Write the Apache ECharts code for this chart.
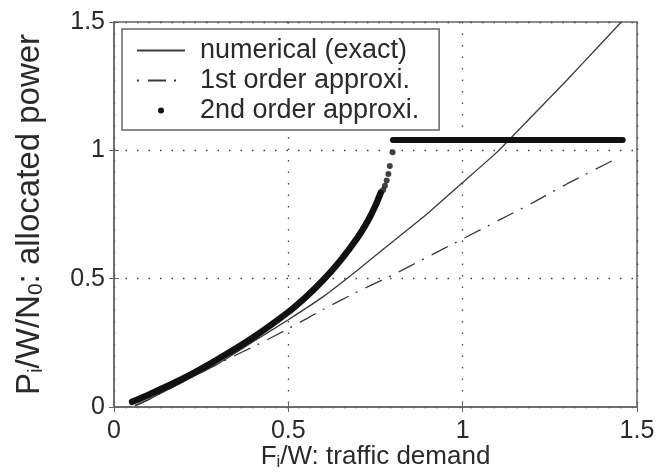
<!DOCTYPE html>
<html>
<head>
<meta charset="utf-8">
<script src="https://cdn.jsdelivr.net/npm/echarts@6/dist/echarts.min.js"></script>
<style>
  html, body { margin: 0; padding: 0; background: #fff; }
  #chart { width: 657px; height: 474px; }
</style>
</head>
<body>
<div id="chart"></div>
<script>
// Data
const numericalX = [0.06, 0.1, 0.2, 0.3, 0.4, 0.5, 0.6, 0.7, 0.8, 0.9, 1.0, 1.1, 1.2, 1.3, 1.4, 1.455];
const numericalY = [0.005, 0.03, 0.1, 0.17, 0.255, 0.34, 0.43, 0.535, 0.645, 0.755, 0.875, 0.995, 1.135, 1.275, 1.42, 1.5];

const firstX = [0.06, 0.1, 0.2, 0.3, 0.4, 0.5, 0.6, 0.7, 0.8, 0.9, 1.0, 1.1, 1.2, 1.3, 1.43];
const firstY = [0.005, 0.03, 0.1, 0.17, 0.235, 0.305, 0.38, 0.45, 0.515, 0.585, 0.655, 0.725, 0.795, 0.87, 0.96];

// 2nd order: dense part of the curve, the sparse dots near the top, the flat part
const secondCurveX = [0.052, 0.1, 0.2, 0.3, 0.4, 0.5, 0.55, 0.6, 0.65, 0.7, 0.73, 0.75, 0.765];
const secondCurveY = [0.02, 0.048, 0.112, 0.188, 0.272, 0.37, 0.428, 0.495, 0.572, 0.663, 0.73, 0.785, 0.835];
const secondDotsX = [0.772, 0.777, 0.782, 0.787, 0.791, 0.799];
const secondDotsY = [0.845, 0.862, 0.882, 0.908, 0.939, 0.993];
const secondFlatX = [0.8, 1.459];
const secondFlatY = [1.04, 1.04];

const names = ['numerical (exact)', '1st order approxi.', '2nd order approxi.'];

const pairs = (xs, ys) => xs.map((x, i) => [x, ys[i]]);

const FONT = 'Liberation Sans';
const TEXT = '#2a2a2a';
const AXIS = '#666';

const chart = echarts.init(document.getElementById('chart'));

const gridLine = { show: true, lineStyle: { color: '#444', width: 1.3, type: [1.5, 10] } };
const xRich = {
  m: { fontSize: 26, fontFamily: FONT, color: TEXT, lineHeight: 28 },
  s: { fontSize: 17, fontFamily: FONT, color: TEXT, lineHeight: 17, padding: [24, 0, 0, 0], verticalAlign: 'bottom' }
};
const yRich = {
  m: { fontSize: 33, fontFamily: FONT, color: TEXT, lineHeight: 35 },
  s: { fontSize: 21, fontFamily: FONT, color: TEXT, lineHeight: 21, padding: [26, 0, 0, 0], verticalAlign: 'bottom' }
};
const hidden = { opacity: 0, borderWidth: 0 };

chart.setOption({
  animation: false,
  backgroundColor: '#fff',
  grid: {
    left: 114, right: 20, top: 22, bottom: 67,
    containLabel: false, outerBoundsMode: 'none',
    show: true, borderColor: AXIS, borderWidth: 1.5
  },
  legend: {
    orient: 'vertical',
    left: 122,
    top: 29,
    padding: [8, 20, 6, 14],
    itemWidth: 48,
    itemHeight: 6,
    itemGap: 3,
    backgroundColor: '#fff',
    borderColor: AXIS,
    borderWidth: 1.5,
    textStyle: { fontSize: 27, fontFamily: FONT, color: TEXT, lineHeight: 25, padding: [0, 0, 0, 10] },
    data: [
      { name: names[0], itemStyle: hidden },
      { name: names[1], itemStyle: hidden, lineStyle: { dashOffset: 26 } },
      { name: names[2], icon: 'circle' }
    ]
  },
  xAxis: [{
    type: 'value', min: 0, max: 1.5, interval: 0.5,
    name: '{m|F}{s|i}{m|/W: traffic demand}',
    nameLocation: 'middle', nameGap: 36, nameMoveOverlap: false,
    nameTextStyle: { rich: xRich },
    axisLine: { show: true, lineStyle: { color: AXIS, width: 1.5 } },
    axisTick: { show: true, inside: true, length: 5, lineStyle: { color: AXIS } },
    axisLabel: { fontSize: 25, fontFamily: FONT, color: TEXT, margin: 12 },
    splitLine: gridLine
  }, {
    type: 'value', min: 0, max: 1.5, interval: 0.5, position: 'top',
    axisLine: { show: false },
    axisTick: { show: true, inside: true, length: 5, lineStyle: { color: AXIS } },
    axisLabel: { show: false },
    splitLine: { show: false }
  }],
  yAxis: [{
    type: 'value', min: 0, max: 1.5, interval: 0.5,
    name: '{m|P}{s|i}{m|/W/N}{s|0}{m|: allocated power}',
    nameLocation: 'middle', nameGap: 67, nameMoveOverlap: false,
    nameTextStyle: { rich: yRich },
    axisLine: { show: true, lineStyle: { color: AXIS, width: 1.5 } },
    axisTick: { show: true, inside: true, length: 5, lineStyle: { color: AXIS } },
    axisLabel: { fontSize: 25, fontFamily: FONT, color: TEXT, margin: 9 },
    splitLine: gridLine
  }, {
    type: 'value', min: 0, max: 1.5, interval: 0.5, position: 'right',
    axisLine: { show: false },
    axisTick: { show: true, inside: true, length: 5, lineStyle: { color: AXIS } },
    axisLabel: { show: false },
    splitLine: { show: false }
  }],
  series: [
    {
      name: names[0], type: 'line', symbol: 'none', smooth: 0.2,
      color: '#3a3a3a',
      lineStyle: { color: '#3a3a3a', width: 1.3 },
      data: pairs(numericalX, numericalY)
    },
    {
      name: names[1], type: 'line', symbol: 'none', smooth: 0.2,
      color: '#3a3a3a',
      lineStyle: { color: '#3a3a3a', width: 1.3, type: [18, 8, 2, 9] },
      data: pairs(firstX, firstY)
    },
    {
      name: names[2], type: 'line', symbol: 'none', smooth: 0.2,
      color: '#111',
      lineStyle: { color: '#111', width: 6.5, cap: 'round' },
      data: pairs(secondCurveX, secondCurveY)
    },
    {
      name: names[2], type: 'line', symbol: 'none',
      color: '#111',
      lineStyle: { color: '#111', width: 6, cap: 'round' },
      data: pairs(secondFlatX, secondFlatY)
    },
    {
      name: names[2], type: 'scatter', symbol: 'circle', symbolSize: 6,
      color: '#111',
      itemStyle: { color: '#111' },
      data: pairs(secondDotsX, secondDotsY)
    }
  ]
});
</script>
</body>
</html>
